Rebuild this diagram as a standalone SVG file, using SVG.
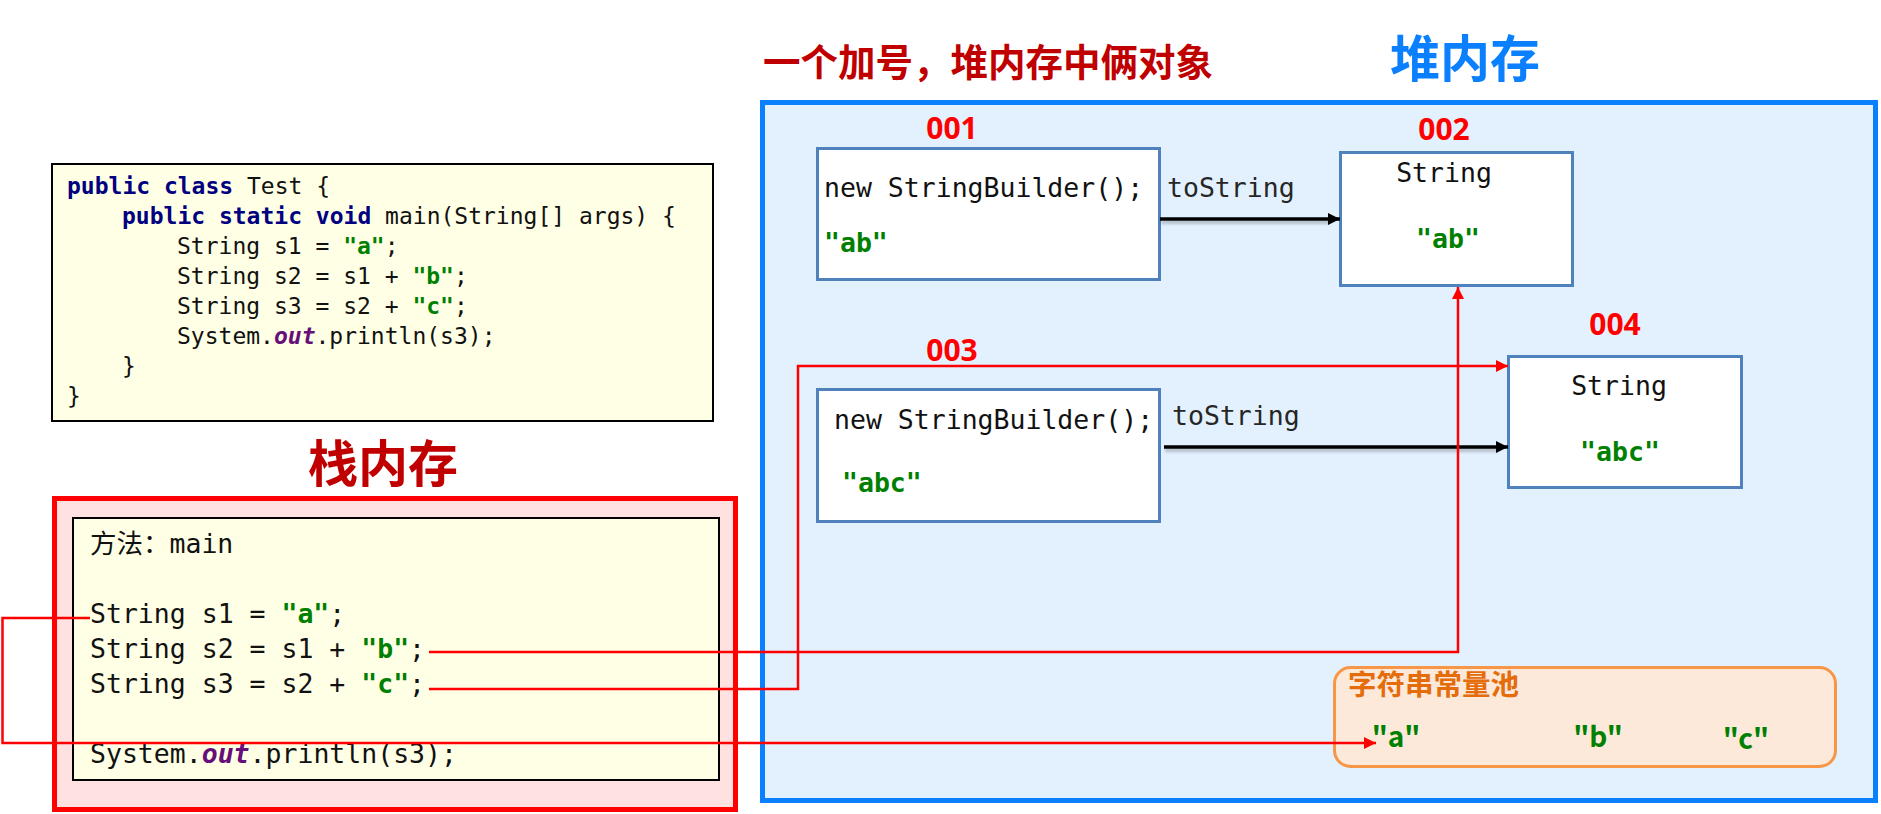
<svg xmlns="http://www.w3.org/2000/svg" width="1881" height="814" viewBox="0 0 1881 814">
<style>
.mono{font-family:"DejaVu Sans Mono","Liberation Mono","Noto Sans CJK SC",monospace;white-space:pre;fill:#111}
.code{font-size:23px}
.big{font-size:26.5px}
.kw{font-weight:bold;fill:#000080}
.str{font-weight:bold;fill:#008000}
.fld{font-weight:bold;font-style:italic;fill:#660E7A}
.cjk{font-family:"Noto Sans CJK SC","Noto Sans",sans-serif;font-weight:bold}
.addr{font-family:"Noto Sans","Noto Sans CJK SC",sans-serif;font-weight:bold;font-size:30px;fill:#FF0000;text-anchor:middle}
.obj{fill:#FFFFFF;stroke:#4F81BD;stroke-width:3}
.red{fill:none;stroke:#FF0000;stroke-width:2.5}
.blk{fill:none;stroke:#000;stroke-width:3.5}
.shd{fill:none;stroke:#000;stroke-opacity:0.22;stroke-width:4}
.lbl{fill:#262626}
</style>
<defs>
<marker id="ar" markerUnits="userSpaceOnUse" markerWidth="14" markerHeight="14" refX="12" refY="6" orient="auto">
<path d="M0,0 L12,6 L0,12 Z" fill="#FF0000"/>
</marker>
<marker id="ab" markerUnits="userSpaceOnUse" markerWidth="14" markerHeight="14" refX="12" refY="6" orient="auto">
<path d="M0,0 L12,6 L0,12 Z" fill="#000"/>
</marker>
<filter id="blur" filterUnits="userSpaceOnUse" x="0" y="0" width="1881" height="814">
<feGaussianBlur stdDeviation="1.5"/>
</filter>
</defs>

<!-- titles -->
<text x="763" y="76" class="cjk" font-size="37.5" fill="#C00000">一个加号，堆内存中俩对象</text>
<text x="1465" y="77" class="cjk" font-size="50" fill="#0A80FF" text-anchor="middle">堆内存</text>
<text x="383" y="482" class="cjk" font-size="50" fill="#C00000" text-anchor="middle">栈内存</text>

<!-- code box -->
<g id="code">
<rect x="52" y="164" width="661" height="257" fill="#FFFFE5" stroke="#000" stroke-width="2"/>
<text class="mono code" x="67" y="194"><tspan class="kw">public class</tspan> Test {</text>
<text class="mono code" x="122" y="224"><tspan class="kw">public static void</tspan> main(String[] args) {</text>
<text class="mono code" x="177" y="254">String s1 = <tspan class="str">"a"</tspan>;</text>
<text class="mono code" x="177" y="284">String s2 = s1 + <tspan class="str">"b"</tspan>;</text>
<text class="mono code" x="177" y="314">String s3 = s2 + <tspan class="str">"c"</tspan>;</text>
<text class="mono code" x="177" y="344">System.<tspan class="fld">out</tspan>.println(s3);</text>
<text class="mono code" x="122" y="374">}</text>
<text class="mono code" x="67" y="404">}</text>
</g>

<!-- stack -->
<g id="stack">
<rect x="54.5" y="498.5" width="681" height="311" fill="#FFE1E1" stroke="#FF0000" stroke-width="5"/>
<rect x="73" y="518" width="646" height="262" fill="#FFFFE5" stroke="#000" stroke-width="2"/>
<text class="mono big" x="90" y="553">方法：main</text>
<text class="mono big" x="90" y="623">String s1 = <tspan class="str">"a"</tspan>;</text>
<text class="mono big" x="90" y="658">String s2 = s1 + <tspan class="str">"b"</tspan>;</text>
<text class="mono big" x="90" y="693">String s3 = s2 + <tspan class="str">"c"</tspan>;</text>
<text class="mono big" x="90" y="763">System.<tspan class="fld">out</tspan>.println(s3);</text>
</g>

<!-- heap -->
<g id="heap">
<rect x="762.5" y="102.5" width="1113" height="698" fill="#E3F1FE" stroke="#0A80FF" stroke-width="5"/>
</g>

<g id="obj001">
<rect class="obj" x="817.5" y="148.5" width="342" height="131"/>
<text class="addr" x="952" y="139">001</text>
<text class="mono big" x="824" y="197">new StringBuilder();</text>
<text class="mono big str" x="824" y="252">"ab"</text>
</g>

<g id="obj002">
<rect class="obj" x="1340.5" y="152.5" width="232" height="133"/>
<text class="addr" x="1444" y="140">002</text>
<text class="mono big" x="1444" y="182" text-anchor="middle">String</text>
<text class="mono big str" x="1448" y="248" text-anchor="middle">"ab"</text>
</g>

<g id="obj003">
<rect class="obj" x="817.5" y="389.5" width="342" height="132"/>
<text class="addr" x="952" y="361">003</text>
<text class="mono big" x="834" y="429">new StringBuilder();</text>
<text class="mono big str" x="842" y="492">"abc"</text>
</g>

<g id="obj004">
<rect class="obj" x="1508.5" y="356.5" width="233" height="131"/>
<text class="addr" x="1615" y="335">004</text>
<text class="mono big" x="1619" y="395" text-anchor="middle">String</text>
<text class="mono big str" x="1620" y="461" text-anchor="middle">"abc"</text>
</g>

<g id="pool">
<rect x="1334.5" y="667.5" width="501" height="99" rx="16" fill="#FCE9DA" stroke="#F79646" stroke-width="3"/>
<text x="1348" y="695" class="cjk" font-size="28.5" fill="#E46C0A">字符串常量池</text>
<text x="1396" y="747" class="cjk" font-size="28" fill="#008000" text-anchor="middle">"a"</text>
<text x="1598" y="747" class="cjk" font-size="28" fill="#008000" text-anchor="middle">"b"</text>
<text x="1746" y="749" class="cjk" font-size="28" fill="#008000" text-anchor="middle">"c"</text>
</g>

<g id="connectors">
<path class="shd" d="M1161,222 H1330" filter="url(#blur)"/>
<path class="blk" d="M1160,219 H1340" marker-end="url(#ab)"/>
<text class="mono big lbl" x="1167" y="197">toString</text>
<path class="shd" d="M1165,450 H1498" filter="url(#blur)"/>
<path class="blk" d="M1164,447 H1508" marker-end="url(#ab)"/>
<text class="mono big lbl" x="1172" y="425">toString</text>
<path class="red" d="M90,618 H2.5 V743 H1376" marker-end="url(#ar)"/>
<path class="red" d="M429,652 H1458 V287" marker-end="url(#ar)"/>
<path class="red" d="M429,689 H798 V366 H1508" marker-end="url(#ar)"/>
</g>
</svg>
